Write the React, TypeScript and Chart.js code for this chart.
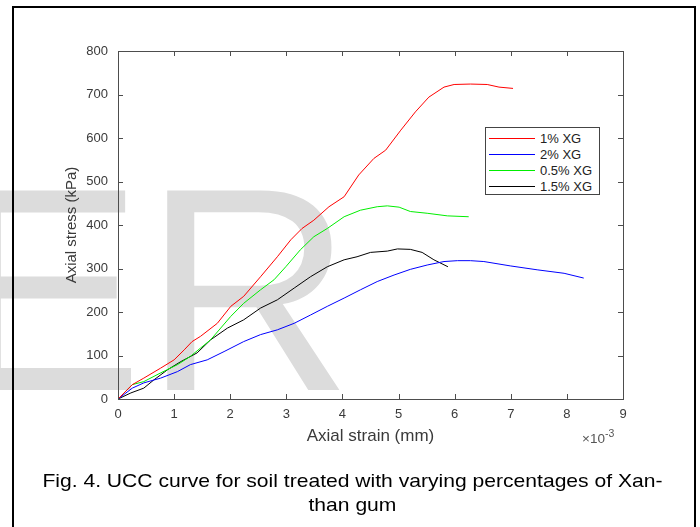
import React, { useEffect, useRef } from "react";
import { Chart, registerables } from "chart.js";

Chart.register(...registerables);

// Axial strain values are in units of 1e-3 (axis shows ×10^-3)
const strain1 = [0, 0.255, 0.46, 0.76, 1.0, 1.18, 1.32, 1.47, 1.77, 2.01, 2.24, 2.54, 2.84, 3.08, 3.28, 3.49, 3.76, 4.03, 4.29, 4.56, 4.77, 5.04, 5.3, 5.54, 5.81, 5.99, 6.28, 6.58, 6.79, 7.04];
const stress1 = [0, 33, 48, 71, 90, 113, 132, 144, 174, 213, 236, 281, 327, 366, 392, 411, 442, 465, 515, 553, 572, 618, 660, 694, 717, 723, 724, 723, 717, 714];

const strain2 = [0, 0.255, 0.46, 0.76, 1.06, 1.29, 1.59, 1.89, 2.24, 2.54, 2.84, 3.14, 3.43, 3.73, 4.03, 4.32, 4.62, 4.92, 5.21, 5.51, 5.81, 6.05, 6.28, 6.52, 6.99, 7.47, 7.95, 8.3];
const stress2 = [0, 25, 37, 48, 63, 79, 90, 109, 132, 148, 159, 174, 193, 213, 232, 251, 270, 285, 298, 308, 316, 318, 318, 316, 306, 297, 289, 278];

const strain3 = [0, 0.255, 0.46, 0.76, 1.06, 1.29, 1.47, 1.65, 2.01, 2.24, 2.54, 2.78, 2.99, 3.25, 3.49, 3.73, 4.03, 4.32, 4.62, 4.8, 5.01, 5.21, 5.51, 5.87, 6.25];
const stress3 = [0, 33, 40, 60, 79, 98, 117, 136, 190, 220, 251, 274, 304, 343, 373, 392, 419, 434, 442, 444, 441, 431, 427, 421, 419];

const strain4 = [0, 0.23, 0.46, 0.64, 0.88, 1.12, 1.41, 1.65, 1.95, 2.24, 2.54, 2.84, 3.14, 3.43, 3.73, 4.03, 4.26, 4.5, 4.8, 4.98, 5.21, 5.42, 5.63, 5.88];
const stress4 = [0, 14, 25, 44, 67, 86, 106, 136, 163, 182, 209, 228, 255, 281, 304, 320, 327, 337, 340, 345, 344, 337, 320, 304];

const seriesLabels = ["1% XG", "2% XG", "0.5% XG", "1.5% XG"];
const seriesColors = ["#ff0000", "#0000ff", "#00ee00", "#000000"];
const seriesStrains = [strain1, strain2, strain3, strain4];
const seriesStresses = [stress1, stress2, stress3, stress4];

const xMin = 0;
const xMax = 9;
const xStep = 1;
const yMin = 0;
const yMax = 800;
const yStep = 100;

const xTitle = "Axial strain (mm)";
const yTitle = "Axial stress (kPa)";
const xExponentBase = "×10";
const xExponentPower = "-3";
const watermarkText = "ER";
const captionLine1 = "Fig. 4. UCC curve for soil treated with varying percentages of Xan-";
const captionLine2 = "than gum";

const FONT = '"Liberation Sans", Arial, sans-serif';

const watermarkPlugin = {
  id: "watermark",
  beforeDraw(chart: any) {
    const ctx = chart.ctx;
    ctx.save();
    ctx.fillStyle = "#dcdcdc";
    ctx.font = `290px ${FONT}`;
    ctx.textBaseline = "alphabetic";
    ctx.textAlign = "left";
    ctx.fillText(watermarkText, -50, 390);
    ctx.restore();
  },
};

const boxTicksPlugin = {
  id: "boxTicks",
  afterDraw(chart: any) {
    const ctx = chart.ctx;
    const { left, right, top, bottom } = chart.chartArea;
    const xs = chart.scales.x;
    const ys = chart.scales.y;
    const len = 5;
    ctx.save();
    ctx.strokeStyle = "#4d4d4d";
    ctx.lineWidth = 1;
    ctx.beginPath();
    xs.ticks.forEach((t: any) => {
      const px = Math.round(xs.getPixelForValue(t.value)) + 0.5;
      ctx.moveTo(px, bottom);
      ctx.lineTo(px, bottom - len);
      ctx.moveTo(px, top);
      ctx.lineTo(px, top + len);
    });
    ys.ticks.forEach((t: any) => {
      const py = Math.round(ys.getPixelForValue(t.value)) + 0.5;
      ctx.moveTo(left, py);
      ctx.lineTo(left + len, py);
      ctx.moveTo(right, py);
      ctx.lineTo(right - len, py);
    });
    ctx.stroke();
    ctx.strokeRect(Math.round(left) + 0.5, Math.round(top) + 0.5, Math.round(right - left), Math.round(bottom - top));
    ctx.restore();
  },
};

export default function App() {
  const canvasRef = useRef<HTMLCanvasElement | null>(null);

  useEffect(() => {
    if (!canvasRef.current) return;
    const datasets = seriesLabels.map((label, i) => ({
      label,
      data: seriesStrains[i].map((x, j) => ({ x, y: seriesStresses[i][j] })),
      borderColor: seriesColors[i],
      backgroundColor: seriesColors[i],
      borderWidth: 1,
      pointRadius: 0,
      tension: 0,
      fill: false,
    }));
    const chart = new Chart(canvasRef.current, {
      type: "line",
      data: { datasets },
      options: {
        animation: false,
        responsive: false,
        maintainAspectRatio: false,
        layout: { padding: { left: 0, right: 77, top: 51, bottom: 0 } },
        plugins: {
          legend: { display: false },
          title: { display: false },
          tooltip: { enabled: false },
        },
        scales: {
          x: {
            type: "linear",
            min: xMin,
            max: xMax,
            grid: { display: false, drawTicks: false },
            border: { display: false },
            ticks: {
              stepSize: xStep,
              padding: 8,
              color: "#3a3a3a",
              font: { family: FONT, size: 13 },
              maxRotation: 0,
            },
            title: {
              display: true,
              text: xTitle,
              color: "#3a3a3a",
              font: { family: FONT, size: 17 },
              padding: { top: 0, bottom: 80.8 },
            },
            afterFit(scale: any) {
              scale.height = 128;
            },
          },
          y: {
            type: "linear",
            min: yMin,
            max: yMax,
            grid: { display: false, drawTicks: false },
            border: { display: false },
            ticks: {
              stepSize: yStep,
              padding: 10,
              color: "#3a3a3a",
              font: { family: FONT, size: 13 },
            },
            title: {
              display: true,
              text: yTitle,
              color: "#3a3a3a",
              font: { family: FONT, size: 15 },
              padding: { top: 63, bottom: 0 },
            },
            afterFit(scale: any) {
              scale.width = 118;
            },
          },
        },
      } as any,
      plugins: [watermarkPlugin, boxTicksPlugin],
    });
    return () => chart.destroy();
  }, []);

  return (
    <div style={{ position: "fixed", left: 0, top: 0, width: 700, height: 527, overflow: "hidden", background: "#ffffff", fontFamily: FONT }}>
      <canvas ref={canvasRef} width={700} height={527} style={{ position: "absolute", left: 0, top: 0, width: 700, height: 527 }} />
      <div style={{ position: "absolute", left: 12, top: 6, width: 684, height: 600, border: "2px solid #000", boxSizing: "border-box" }} />
      <div style={{ position: "absolute", left: 485, top: 127, width: 115, height: 68, border: "1px solid #444", boxSizing: "border-box", background: "#fff" }}>
        {seriesLabels.map((label, i) => (
          <div key={label} style={{ position: "absolute", left: 3, top: 2 + i * 16.3, height: 16, display: "flex", alignItems: "center" }}>
            <div style={{ width: 46, height: 1, background: seriesColors[i] }} />
            <span style={{ marginLeft: 5, fontSize: 13, color: "#222", whiteSpace: "nowrap" }}>{label}</span>
          </div>
        ))}
      </div>
      <div style={{ position: "absolute", left: 582, top: 431, fontSize: 13.5, color: "#555", whiteSpace: "nowrap", lineHeight: "16px" }}>
        <span>{xExponentBase}</span>
        <sup style={{ fontSize: 10.5, verticalAlign: "6px", lineHeight: 0 }}>{xExponentPower}</sup>
      </div>
      <div style={{ position: "absolute", left: 14, top: 469.4, width: 680, textAlign: "center", fontSize: 19, lineHeight: "24px", color: "#000", whiteSpace: "nowrap", transform: "scaleX(1.11)", transformOrigin: "354px 0" }}>
        <div>{captionLine1}</div>
        <div>{captionLine2}</div>
      </div>
    </div>
  );
}
